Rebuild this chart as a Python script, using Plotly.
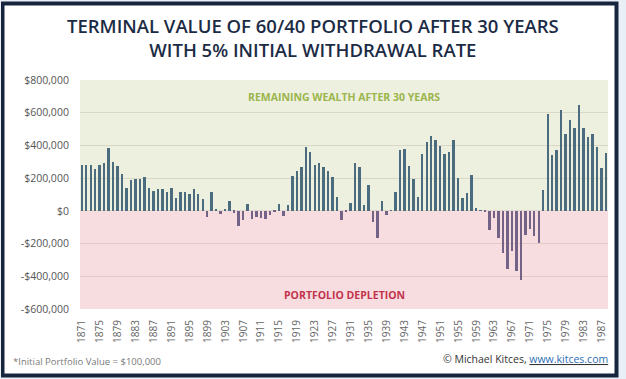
import plotly.graph_objects as go

# ---------------- data ----------------
years = list(range(1871, 1989))
terminal_value = [
    278000, 278000, 278000, 255000, 278000, 292000, 384000, 296000, 276000, 227000,   # 1871-1880
    139000, 188000, 194000, 194000, 204000, 139000, 120000, 135000, 135000, 116000,   # 1881-1890
    141000, 76000, 114000, 114000, 104000, 133000, 106000, 74000, -39000, 114000,     # 1891-1900
    12000, -22000, 8000, 58000, -12000, -94000, -57000, 45000, -48000, -35000,        # 1901-1910
    -45000, -49000, -24000, -5000, 41000, -31000, 35000, 214000, 241000, 271000,      # 1911-1920
    392000, 357000, 278000, 294000, 271000, 241000, 210000, 84000, -55000, -10000,    # 1921-1930
    47000, 293000, 266000, 35000, 160000, -70000, -168000, 60000, -25000, 2000,       # 1931-1940
    113000, 371000, 381000, 273000, 195000, 82000, 346000, 422000, 457000, 436000,    # 1941-1950
    395000, 346000, 359000, 436000, 199000, 78000, 107000, 221000, 18000, 5000,       # 1951-1960
    -2000, -117000, -43000, -166000, -256000, -355000, -246000, -365000, -424000, -150000,  # 1961-1970
    -112000, -155000, -199000, 125000, 590000, 344000, 375000, 618000, 472000, 556000,  # 1971-1980
    508000, 647000, 508000, 451000, 467000, 389000, 261000, 354000,                   # 1981-1988
]
x_tick_vals = list(range(1871, 1988, 4))
y_tick_vals = [800000, 600000, 400000, 200000, 0, -200000, -400000, -600000]
y_tick_text = ["$800,000", "$600,000", "$400,000", "$200,000", "$0",
               "-$200,000", "-$400,000", "-$600,000"]

title_lines = ["TERMINAL VALUE OF 60/40 PORTFOLIO AFTER 30 YEARS",
               "WITH 5% INITIAL WITHDRAWAL RATE"]
upper_label = "REMAINING WEALTH AFTER 30 YEARS"
lower_label = "PORTFOLIO DEPLETION"
footnote = "*Initial Portfolio Value = $100,000"
credit = "© Michael Kitces, <u><span style='color:#2f6db3'>www.kitces.com</span></u>"

# ---------------- layout geometry (whole figure is the paper) ----------------
W, H = 626, 379
PLOT_L, PLOT_R, PLOT_T, PLOT_B = 80, 608, 80, 309


def px_x(x):
    return x / W


def px_y(y):
    return 1 - y / H


FONT = "Open Sans, Noto Sans, DejaVu Sans, sans-serif"
POS_COLOR = "#4b6c7f"
NEG_COLOR = "#736387"
FRAME = "#16243d"
PAGE = "#e9eff6"

colors = [POS_COLOR if v >= 0 else NEG_COLOR for v in terminal_value]

fig = go.Figure()
fig.add_trace(go.Bar(
    x=years, y=terminal_value, width=0.43,
    marker=dict(color=colors, line=dict(width=0)),
    hoverinfo="x+y",
))


def band(x0, y0, x1, y1, color, layer="above"):
    return dict(type="rect", xref="paper", yref="paper",
                x0=px_x(x0), x1=px_x(x1), y0=px_y(y1), y1=px_y(y0),
                fillcolor=color, line=dict(width=0), layer=layer)


shapes = [
    # white card inside the navy frame (paper itself is navy)
    band(4.5, 5.5, 614.5, 373.5, "white", layer="below"),
    # page strips outside the frame
    band(0, 0, W, 1.5, PAGE), band(0, H - 1.5, W, H, PAGE),
    band(0, 0, 1, H, PAGE), band(W - 7.5, 0, W, H, PAGE),
    # positive background
    dict(type="rect", xref="x domain", yref="y", x0=0, x1=1, y0=0, y1=800000,
         fillcolor="#eef0df", line=dict(width=0), layer="below"),
    # negative background
    dict(type="rect", xref="x domain", yref="y", x0=0, x1=1, y0=-600000, y1=0,
         fillcolor="#f7dde0", line=dict(width=0), layer="below"),
]

annotations = [
    dict(text=title_lines[0] + "<br>" + title_lines[1], x=0.5, xref="paper",
         y=px_y(38), yref="paper",
         xanchor="center", yanchor="middle", showarrow=False,
         font=dict(family=FONT, size=18.5, color="#1c2b45", weight=600)),
    dict(text="<b>" + upper_label + "</b>", x=px_x(344), xref="paper", y=px_y(97), yref="paper",
         xanchor="center", yanchor="middle", showarrow=False,
         font=dict(family=FONT, size=10.5, color="#9ab54c")),
    dict(text="<b>" + lower_label + "</b>", x=px_x(344), xref="paper", y=px_y(295), yref="paper",
         xanchor="center", yanchor="middle", showarrow=False,
         font=dict(family=FONT, size=10.5, color="#c2334c")),
    dict(text=footnote, x=px_x(11), xref="paper", y=px_y(361), yref="paper",
         xanchor="left", yanchor="middle", showarrow=False,
         font=dict(family=FONT, size=9.5, color="#7a7a7a")),
    dict(text=credit, x=px_x(610), xref="paper", y=px_y(359), yref="paper",
         xanchor="right", yanchor="middle", showarrow=False,
         font=dict(family=FONT, size=10.5, color="#333333")),
]

fig.update_layout(
    width=W, height=H,
    margin=dict(l=0, r=0, t=0, b=0, pad=0),
    paper_bgcolor=FRAME,
    plot_bgcolor="rgba(0,0,0,0)",
    showlegend=False,
    bargap=0,
    shapes=shapes,
    annotations=annotations,
    xaxis=dict(
        domain=[px_x(PLOT_L), px_x(PLOT_R)],
        range=[1870.55, 1988.4],
        tickmode="array", tickvals=x_tick_vals,
        ticktext=[str(v) for v in x_tick_vals],
        tickangle=-90, showgrid=False, zeroline=False, showline=False,
        ticks="outside", ticklen=6, tickcolor="rgba(0,0,0,0)",
        tickfont=dict(family=FONT, size=10, color="#666666"),
        automargin=False,
    ),
    yaxis=dict(
        domain=[px_y(PLOT_B), px_y(PLOT_T)],
        range=[-600000, 800000],
        tickmode="array", tickvals=y_tick_vals, ticktext=y_tick_text,
        showgrid=True, gridcolor="rgba(120,110,90,0.18)", gridwidth=1,
        zeroline=False, showline=False,
        ticks="outside", ticklen=8, tickcolor="rgba(0,0,0,0)",
        tickfont=dict(family=FONT, size=10.5, color="#555555"),
        automargin=False,
    ),
)

fig.write_html("out.html", config={"displayModeBar": False},
               post_script="document.body.style.margin='0';")
